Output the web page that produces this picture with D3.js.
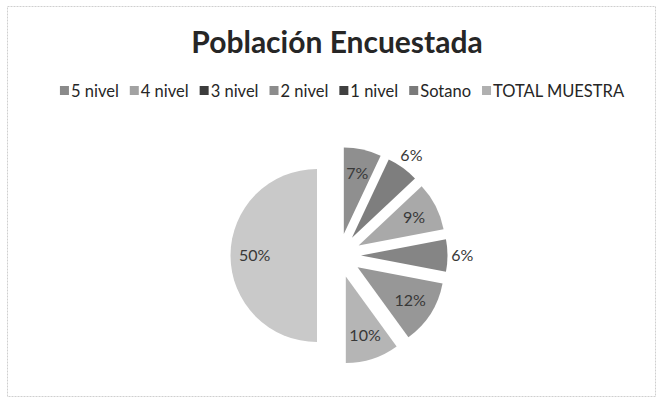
<!DOCTYPE html>
<html>
<head>
<meta charset="utf-8">
<script src="https://cdnjs.cloudflare.com/ajax/libs/d3/7.8.5/d3.min.js"></script>
<style>
  body { margin: 0; background: #fff; }
  svg { display: block; }
</style>
</head>
<body>
<div id="chart"></div>
<script>
// survey data
var categories = ["5 nivel", "4 nivel", "3 nivel", "2 nivel", "1 nivel", "Sotano", "TOTAL MUESTRA"];
var percents = [7, 6, 9, 6, 12, 10, 50];
var grays = ["#8f8f8f", "#7e7e7e", "#a9a9a9", "#858585", "#979797", "#b5b5b5", "#c9c9c9"];
var swatches = ["#8a8a8a", "#a2a2a2", "#3c3c3c", "#8c8c8c", "#404040", "#7a7a7a", "#b0b0b0"];

var width = 660, height = 401;
var font = "Lato, 'Open Sans', sans-serif";

var svg = d3.select("#chart").append("svg")
  .attr("width", width)
  .attr("height", height);

// faint frame of the scanned chart area
svg.append("rect")
  .attr("x", 7.5).attr("y", 6.5)
  .attr("width", 648).attr("height", 390)
  .attr("fill", "none")
  .attr("stroke", "#cfcfcf")
  .attr("stroke-dasharray", "2,1");

svg.append("text")
  .attr("x", 337).attr("y", 53)
  .attr("text-anchor", "middle")
  .attr("font-family", font)
  .attr("font-weight", "bold")
  .attr("font-size", 30)
  .attr("fill", "#262626")
  .text("Población Encuestada");

// legend: laid out in a row, then centered
var legend = svg.append("g");
var lx = 0;
categories.forEach(function(c, i){
  var item = legend.append("g").attr("transform", "translate(" + lx + ",0)");
  item.append("rect")
    .attr("x", 0).attr("y", -5)
    .attr("width", 9).attr("height", 9)
    .attr("fill", swatches[i]);
  var t = item.append("text")
    .attr("x", 11).attr("y", 0)
    .attr("dy", "0.35em")
    .attr("font-family", font)
    .attr("font-size", 16.5)
    .attr("fill", "#262626")
    .text(c);
  lx += 11 + t.node().getComputedTextLength() + 11;
});
lx -= 11;
legend.attr("transform", "translate(" + (342 - lx/2) + ",91)");

// exploded pie, first slice at 12 o'clock
var cx = 339, cy = 255.5, R = 86.5, explode = 22;

var pie = d3.pie().sort(null).value(function(d){ return d; });
var arc = d3.arc().innerRadius(0).outerRadius(R);
var slices = pie(percents);

var g = svg.append("g").attr("transform", "translate(" + cx + "," + cy + ")");

var slice = g.selectAll("g.slice")
  .data(slices)
  .enter().append("g")
  .attr("class", "slice")
  .attr("transform", function(d){
    var a = (d.startAngle + d.endAngle) / 2;
    return "translate(" + (explode*Math.sin(a)) + "," + (-explode*Math.cos(a)) + ")";
  });

slice.append("path")
  .attr("d", arc)
  .attr("fill", function(d, i){ return grays[i]; });

// small slices get their label outside, the rest inside
slice.append("text")
  .attr("transform", function(d){
    var a = (d.startAngle + d.endAngle) / 2;
    var r = d.data < 7 ? R*1.17 : R*0.72;
    return "translate(" + (r*Math.sin(a)) + "," + (-r*Math.cos(a)) + ")";
  })
  .attr("text-anchor", "middle")
  .attr("dy", "0.35em")
  .attr("font-family", font)
  .attr("font-size", 16)
  .attr("fill", "#383838")
  .text(function(d){ return d.data + "%"; });
</script>
</body>
</html>
